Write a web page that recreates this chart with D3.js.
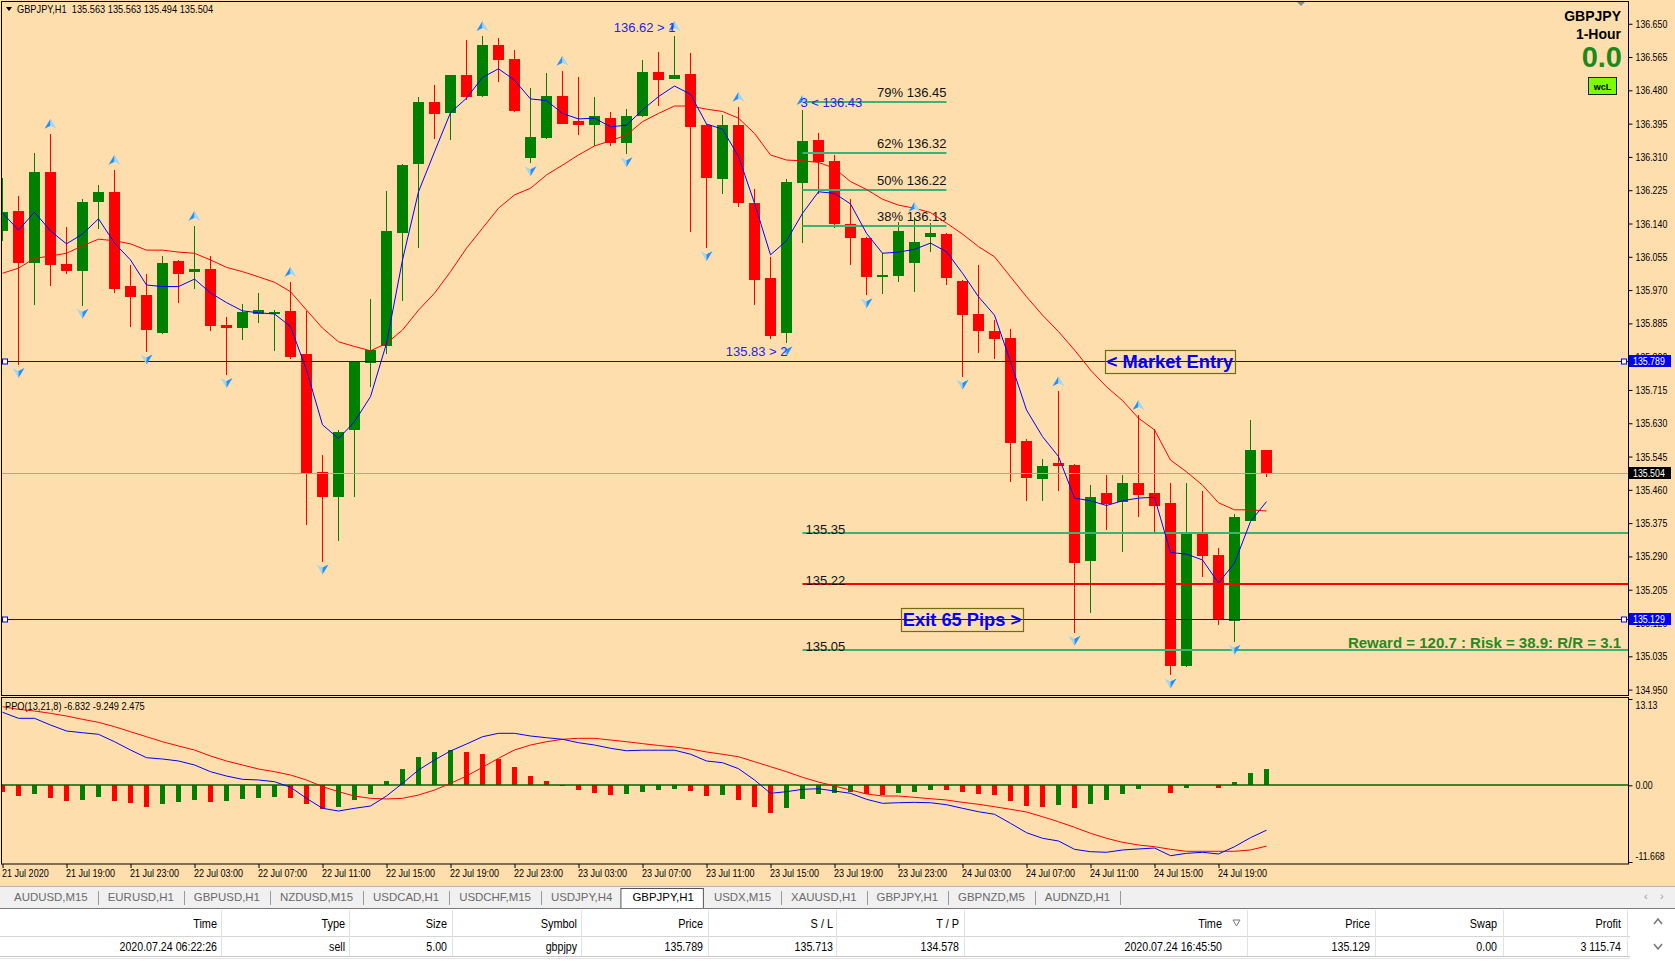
<!DOCTYPE html>
<html><head><meta charset="utf-8">
<script src="https://cdn.jsdelivr.net/npm/d3@7"></script>
<style>
body{margin:0;background:#FFDEAD;overflow:hidden}
svg{display:block}
</style></head>
<body><svg id="c" width="1675" height="963"></svg>
<script>
// ---------------- DATA ----------------
const opens=[136.122,136.172,136.040,136.272,136.037,136.020,136.195,136.220,135.980,135.957,
135.861,136.044,136.017,136.024,135.882,135.874,135.910,135.912,135.917,135.807,
135.506,135.443,135.614,135.785,135.826,136.117,136.293,136.450,136.423,136.519,
136.466,136.596,136.560,136.308,136.359,136.466,136.402,136.392,136.409,136.346,
136.415,136.527,136.510,136.522,136.392,136.254,136.392,136.193,136.002,135.860,
136.243,136.353,136.300,136.139,136.104,136.004,136.006,136.039,136.106,136.113,
135.993,135.909,135.865,135.847,135.585,135.488,135.529,135.523,135.279,135.452,
135.430,135.478,135.452,135.427,135.011,135.353,135.294,135.124,135.381,135.563];
const highs=[136.256,136.210,136.320,136.369,136.131,136.203,136.238,136.277,136.034,136.011,
136.057,136.047,136.134,136.057,135.902,135.935,135.963,135.919,135.991,135.917,
135.549,135.613,135.790,135.947,136.223,136.292,136.463,136.494,136.520,136.609,
136.619,136.614,136.583,136.485,136.524,136.530,136.514,136.462,136.425,136.432,
136.558,136.578,136.619,136.575,136.394,136.417,136.438,136.228,136.055,136.254,
136.430,136.371,136.315,136.203,136.106,136.065,136.145,136.157,136.141,136.115,
135.995,136.034,135.894,135.870,135.589,135.539,135.712,135.526,135.472,135.498,
135.498,135.651,135.615,135.478,135.478,135.457,135.312,135.399,135.638,135.563];
const lows=[136.096,135.779,135.933,135.981,136.012,135.930,136.126,135.963,135.877,135.813,
135.858,135.938,135.974,135.866,135.753,135.843,135.887,135.815,135.795,135.369,
135.277,135.330,135.443,135.723,135.808,135.943,136.078,136.355,136.353,136.455,
136.463,136.502,136.425,136.294,136.357,136.393,136.366,136.339,136.339,136.317,
136.413,136.440,136.508,136.119,136.077,136.215,136.183,135.932,135.845,135.834,
136.090,136.215,136.129,136.034,135.957,135.960,135.991,135.966,136.068,135.983,
135.749,135.810,135.794,135.481,135.432,135.432,135.458,135.095,135.146,135.358,
135.302,135.391,135.346,134.986,135.008,135.238,135.116,135.072,135.381,135.494];
const closes=[136.169,136.040,136.272,136.035,136.020,136.195,136.220,135.974,135.953,135.869,
136.039,136.012,136.024,135.879,135.874,135.914,135.919,135.915,135.800,135.501,
135.443,135.608,135.788,135.817,136.121,136.289,136.450,136.420,136.519,136.464,
136.596,136.557,136.428,136.361,136.466,136.395,136.392,136.415,136.346,136.415,
136.527,136.506,136.518,136.387,136.257,136.392,136.193,135.997,135.854,136.247,
136.351,136.296,136.140,136.104,136.004,136.009,136.121,136.092,136.115,136.002,
135.907,135.866,135.845,135.580,135.491,135.521,135.522,135.274,135.442,135.425,
135.478,135.448,135.420,135.011,135.353,135.292,135.127,135.391,135.563,135.504];
const maFast=[136.167,136.123,136.169,136.121,136.088,136.113,136.152,136.090,136.047,135.983,
135.979,135.979,135.998,135.963,135.938,135.917,135.912,135.909,135.877,135.766,
135.626,135.591,135.634,135.698,135.834,136.047,136.221,136.323,136.423,136.460,
136.513,136.535,136.506,136.458,136.454,136.421,136.407,136.409,136.387,136.391,
136.430,136.464,136.491,136.470,136.394,136.381,136.311,136.192,136.060,136.096,
136.166,136.221,136.217,136.190,136.115,136.064,136.067,136.074,136.090,136.068,
136.013,135.953,135.906,135.787,135.664,135.596,135.545,135.439,135.432,135.420,
135.432,135.439,135.441,135.300,135.296,135.281,135.222,135.273,135.379,135.430];
const maSlow=[136.013,136.026,136.051,136.057,136.064,136.083,136.100,136.096,136.088,136.072,
136.072,136.067,136.064,136.047,136.028,136.017,136.004,135.990,135.966,135.919,
135.873,135.838,135.826,135.815,135.834,135.868,135.919,135.962,136.017,136.077,
136.128,136.179,136.213,136.230,136.264,136.289,136.315,136.338,136.351,136.366,
136.400,136.421,136.440,136.440,136.432,136.426,136.409,136.370,136.315,136.302,
136.300,136.296,136.281,136.247,136.227,136.202,136.187,136.179,136.168,136.141,
136.113,136.081,136.055,136.004,135.953,135.906,135.864,135.817,135.766,135.723,
135.688,135.643,135.613,135.536,135.506,135.472,135.427,135.409,135.409,135.406];
const ppoMain=[11.11,10.19,10.19,9.17,8.26,8.00,7.76,6.63,5.37,4.20,
4.00,3.70,3.09,2.07,1.41,0.91,0.81,0.55,-0.30,-1.98,
-3.50,-3.91,-3.50,-3.15,-1.63,0.30,2.33,3.85,5.22,6.28,
7.39,7.91,7.91,7.50,7.24,7.00,6.48,6.13,5.63,5.26,
5.34,5.34,5.34,4.73,3.70,3.44,2.53,0.81,-1.22,-0.97,
-0.61,-0.52,-0.87,-1.22,-2.13,-2.74,-2.65,-2.59,-2.65,-2.95,
-3.50,-4.02,-4.41,-5.78,-7.21,-8.06,-8.47,-9.74,-10.10,-10.19,
-9.84,-9.69,-9.54,-10.71,-10.35,-10.19,-10.45,-9.34,-7.97,-6.83];
const ppoSignal=[11.96,11.56,11.30,10.95,10.54,10.04,9.58,8.92,8.15,7.39,
6.63,5.98,5.37,4.46,3.70,3.09,2.48,2.07,1.57,0.81,
-0.21,-0.97,-1.63,-1.98,-2.08,-1.98,-1.48,-0.72,0.30,1.41,
2.74,4.11,5.37,6.13,6.63,7.00,7.15,7.15,6.89,6.63,
6.34,6.06,5.83,5.52,5.07,4.72,4.35,3.59,2.83,2.07,
1.22,0.50,-0.11,-0.72,-1.32,-1.63,-1.63,-1.83,-2.04,-2.24,
-2.59,-2.89,-3.26,-3.65,-4.06,-4.78,-5.54,-6.39,-7.30,-8.06,
-8.67,-9.08,-9.34,-9.74,-10.04,-10.04,-10.04,-10.04,-9.84,-9.25];
const ppoHist=[-0.96,-1.63,-1.26,-1.87,-2.33,-2.18,-1.72,-2.33,-2.63,-3.24,
-2.84,-2.48,-2.18,-2.48,-2.33,-2.02,-1.87,-1.72,-1.87,-2.78,
-3.54,-3.24,-2.18,-1.26,0.61,2.43,4.31,5.07,5.37,5.07,
4.76,4.00,2.78,1.37,0.65,-0.15,-0.65,-1.11,-1.41,-1.38,
-0.96,-0.65,-0.50,-0.81,-1.60,-1.55,-2.18,-3.24,-4.15,-3.39,
-2.02,-1.26,-1.11,-1.08,-1.26,-1.41,-1.11,-0.96,-0.65,-0.68,
-0.96,-1.26,-1.41,-2.33,-3.09,-3.24,-2.94,-3.39,-2.78,-2.18,
-1.26,-0.50,0.00,-1.11,-0.35,0.00,-0.35,0.46,1.87,2.48];
const fractalUp=[3,7,12,18,30,35,42,46,50,57,66,71];
const fractalDown=[1,5,9,14,20,33,39,44,49,54,60,67,73,77];
const timeLabels=["21 Jul 2020","21 Jul 19:00","21 Jul 23:00","22 Jul 03:00","22 Jul 07:00","22 Jul 11:00","22 Jul 15:00","22 Jul 19:00","22 Jul 23:00","23 Jul 03:00","23 Jul 07:00","23 Jul 11:00","23 Jul 15:00","23 Jul 19:00","23 Jul 23:00","24 Jul 03:00","24 Jul 07:00","24 Jul 11:00","24 Jul 15:00","24 Jul 19:00"];
const priceTicks=[136.650,136.565,136.480,136.395,136.310,136.225,136.140,136.055,135.970,135.885,135.800,135.715,135.630,135.545,135.460,135.375,135.290,135.205,135.120,135.035,134.950];
const ppoTicks=[13.13,0,-11.668];
const fibPct=["79%","62%","50%","38%"];
const fibVals=[136.451,136.319,136.2265,136.134];
const fibText=["136.45","136.32","136.22","136.13"];
const targetVals=[135.35,135.22,135.05];
const targetText=["135.35","135.22","135.05"];
const entryPrice=135.789, exitPrice=135.129, bidPrice=135.504;
const swingNotes=[{i:42,t:"136.62 > 1",side:"hiL"},{i:49,t:"135.83 > 2",side:"loL"},{i:50,t:"3 < 136.43",side:"hiR"}];
const tabNames=["AUDUSD,M15","EURUSD,H1","GBPUSD,H1","NZDUSD,M15","USDCAD,H1","USDCHF,M15","USDJPY,H4","GBPJPY,H1","USDX,M15","XAUUSD,H1","GBPJPY,H1","GBPNZD,M5","AUDNZD,H1"];
const activeTab=7;
const colNames=["Time","Type","Size","Symbol","Price","S / L","T / P","Time","Price","Swap","Profit"];
const rowVals=["2020.07.24 06:22:26","sell","5.00","gbpjpy","135.789","135.713","134.578","2020.07.24 16:45:50","135.129","0.00","3 115.74"];
const colRight=[217,345,447,577,703,833,959,1222,1370,1497,1621];
const colSep=[221,349,452,581,708,836,964,1247,1375,1503,1627];

// ---------------- LAYOUT ----------------
const SANS='"Liberation Sans",Arial,sans-serif';
const BG="#FFDEAD", GREEN="#008000", RED="#FF0000";
const PL=1.5, PR=1628.5, PT=1.5, PB=695.5, IT=697.5, IB=864;
const svg=d3.select("#c");
const x=d3.scaleLinear().domain([0,79]).range([2.5,1266.5]);
const y=d3.scaleLinear().domain([134.95,136.65]).range([689.6,23.75]);
const yi=d3.scaleLinear().domain([-11.668,13.13]).range([862,699]);
const idx=d3.range(opens.length);
const R=v=>Math.round(v);
function squeeze(sel,f){sel.each(function(){const L=this.getComputedTextLength();this.setAttribute("textLength",(L*f).toFixed(1));this.setAttribute("lengthAdjust","spacingAndGlyphs");});}

svg.append("rect").attr("width",1675).attr("height",963).attr("fill",BG);
const defs=svg.append("defs");
defs.append("clipPath").attr("id","mclip").append("rect").attr("x",PL).attr("y",PT).attr("width",PR-PL).attr("height",PB-PT);
defs.append("clipPath").attr("id","iclip").append("rect").attr("x",PL).attr("y",IT).attr("width",PR-PL).attr("height",IB-IT);

// ---------- main panel ----------
const m=svg.append("g").attr("clip-path","url(#mclip)");
m.selectAll("line.wick").data(idx).join("line").attr("class","wick")
 .attr("x1",i=>x(i)).attr("x2",i=>x(i))
 .attr("y1",i=>R(y(highs[i]))).attr("y2",i=>R(y(lows[i])))
 .attr("stroke",i=>closes[i]>=opens[i]?GREEN:RED).attr("stroke-width",1);
m.selectAll("rect.body").data(idx).join("rect").attr("class","body")
 .attr("x",i=>x(i)-5.5).attr("width",11)
 .attr("y",i=>R(y(Math.max(opens[i],closes[i]))))
 .attr("height",i=>Math.max(2,R(y(Math.min(opens[i],closes[i])))-R(y(Math.max(opens[i],closes[i])))))
 .attr("fill",i=>closes[i]>=opens[i]?GREEN:RED);

m.append("line").attr("x1",PL).attr("x2",PR).attr("y1",R(y(bidPrice))+0.5).attr("y2",R(y(bidPrice))+0.5).attr("stroke","#A8A8A8");
[entryPrice,exitPrice].forEach(p=>{
  const yy=R(y(p))+0.5;
  m.append("line").attr("x1",PL).attr("x2",PR).attr("y1",yy).attr("y2",yy).attr("stroke","#0000FF");
  m.append("rect").attr("x",2.5).attr("y",yy-2.5).attr("width",5).attr("height",5).attr("fill","#fff").attr("stroke","#0000FF");
  m.append("rect").attr("x",1621.5).attr("y",yy-2.5).attr("width",5).attr("height",5).attr("fill","#fff").attr("stroke","#0000FF");
});
const fibX0=x(50), fibX1=946.5;
fibVals.forEach((v,k)=>{
  const yy=R(y(v));
  m.append("line").attr("x1",fibX0).attr("x2",fibX1).attr("y1",yy).attr("y2",yy).attr("stroke","#3CB371").attr("stroke-width",2.2);
  m.append("text").attr("x",fibX1).attr("y",yy-5).attr("text-anchor","end").attr("font-family",SANS).attr("font-size",13).attr("fill","#111").text(fibPct[k]+" "+fibText[k]);
});
targetVals.forEach((v,k)=>{
  const yy=R(y(v));
  m.append("line").attr("x1",fibX0).attr("x2",PR).attr("y1",yy).attr("y2",yy).attr("stroke",k===1?"#FF0000":"#3CB371").attr("stroke-width",2.2);
  m.append("text").attr("x",fibX0+3).attr("y",yy+1).attr("font-family",SANS).attr("font-size",13).attr("fill","#111").text(targetText[k]);
});

const lineGen=arr=>d3.line().x((d,i)=>x(i)).y(d=>y(d))(arr);
m.append("path").attr("d",lineGen(maSlow)).attr("fill","none").attr("stroke","#FF0000").attr("stroke-width",1);
m.append("path").attr("d",lineGen(maFast)).attr("fill","none").attr("stroke","#0000FF").attr("stroke-width",1);

function arrow(g,cx,cy,up){
  const s=up?1:-1;
  g.append("path").attr("d",`M${cx},${cy-5*s} L${cx-6},${cy+5*s} L${cx},${cy+2*s} Z`).attr("fill",up?"#1E90FF":"#9ED8F5");
  g.append("path").attr("d",`M${cx},${cy-5*s} L${cx+6},${cy+5*s} L${cx},${cy+2*s} Z`).attr("fill",up?"#9ED8F5":"#1E90FF");
}
fractalUp.forEach(i=>arrow(m,x(i),y(highs[i])-10,true));
fractalDown.forEach(i=>arrow(m,x(i),y(lows[i])+8,false));

swingNotes.forEach(n=>{
  let tx,ty,anchor;
  if(n.side==="hiL"){tx=x(n.i)+1;ty=y(highs[n.i])-4;anchor="end";}
  else if(n.side==="loL"){tx=x(n.i)+1;ty=y(lows[n.i])+13;anchor="end";}
  else {tx=x(n.i)-2;ty=y(highs[n.i])-3;anchor="start";}
  m.append("text").attr("x",tx).attr("y",ty).attr("text-anchor",anchor).attr("font-family",SANS).attr("font-size",13).attr("fill","#2222EE").text(n.t);
});

function labelBox(x0,x1,p,t){
  const yy=R(y(p));
  m.append("rect").attr("x",x0+0.5).attr("y",yy-10.5).attr("width",x1-x0).attr("height",23).attr("fill","none").attr("stroke","#6E6E10").attr("stroke-width",1.2);
  m.append("text").attr("x",(x0+x1)/2).attr("y",yy+7).attr("text-anchor","middle").attr("font-family",SANS).attr("font-weight","bold").attr("font-size",18.3).attr("fill","#0000FF").text(t);
}
labelBox(1105,1235,entryPrice,"< Market Entry");
labelBox(901,1023,exitPrice,"Exit 65 Pips >");

m.append("text").attr("x",1621).attr("y",R(y(135.05))-2).attr("text-anchor","end").attr("font-family",SANS).attr("font-weight","bold").attr("font-size",15).attr("fill","#248A24").text("Reward = 120.7 : Risk = 38.9: R/R = 3.1");

const info=svg.append("g").attr("font-family",SANS).attr("font-weight","bold").attr("text-anchor","end");
info.append("text").attr("x",1621).attr("y",21).attr("font-size",14).attr("fill","#000").text("GBPJPY");
info.append("text").attr("x",1621).attr("y",39).attr("font-size",14).attr("fill","#000").text("1-Hour");
info.append("text").attr("x",1622).attr("y",67).attr("font-size",29).attr("fill","#1A8A1A").text("0.0");
svg.append("rect").attr("x",1588.5).attr("y",77.5).attr("width",28).attr("height",17).attr("fill","#7CFC00").attr("stroke","#222");
svg.append("text").attr("x",1602.5).attr("y",89.5).attr("text-anchor","middle").attr("font-family",SANS).attr("font-weight","bold").attr("font-size",9).attr("fill","#000").text("wcL");

svg.append("path").attr("d","M6,7 L12,7 L9,11 Z").attr("fill","#000");
const hdr=svg.append("text").attr("x",17).attr("y",13).attr("font-family",SANS).attr("font-size",11).attr("fill","#000").attr("xml:space","preserve").text("GBPJPY,H1  135.563 135.563 135.494 135.504");
squeeze(hdr,0.84);
svg.append("path").attr("d","M1297,2 L1305,2 L1301,6 Z").attr("fill","#8A8A8A");

svg.append("rect").attr("x",PL).attr("y",PT).attr("width",PR-PL).attr("height",PB-PT).attr("fill","none").attr("stroke","#000");

// price axis
const ya=svg.append("g").attr("transform",`translate(${PR},0)`).call(d3.axisRight(y).tickValues(priceTicks).tickFormat(d3.format(".3f")).tickSize(4).tickPadding(3));
ya.select(".domain").remove();
ya.selectAll("text").attr("font-family",SANS).attr("font-size",11).attr("fill","#000");
squeeze(ya.selectAll("text"),0.8);
ya.selectAll("line").attr("stroke","#000");
[[entryPrice,"#0000FF"],[bidPrice,"#000000"],[exitPrice,"#0000FF"]].forEach(([p,c])=>{
  const yy=R(y(p));
  svg.append("rect").attr("x",1629).attr("y",yy-6).attr("width",42).attr("height",12).attr("fill",c);
  const t=svg.append("text").attr("x",1633).attr("y",yy+4).attr("font-family",SANS).attr("font-size",11).attr("fill","#fff").text(p.toFixed(3));
  squeeze(t,0.8);
});

// ---------- indicator panel ----------
const ig=svg.append("g").attr("clip-path","url(#iclip)");
const y0=R(yi(0));
ig.selectAll("rect.h").data(idx).join("rect").attr("class","h")
 .attr("x",i=>x(i)-2.5).attr("width",5)
 .attr("y",i=>ppoHist[i]>=0?R(yi(ppoHist[i])):y0)
 .attr("height",i=>Math.abs(R(yi(ppoHist[i]))-y0))
 .attr("fill",i=>(i>0&&ppoHist[i]>ppoHist[i-1])?GREEN:RED);
ig.append("line").attr("x1",PL).attr("x2",PR).attr("y1",y0).attr("y2",y0).attr("stroke","#006400").attr("stroke-width",1.6);
const iline=arr=>d3.line().x((d,i)=>x(i)).y(d=>yi(d))(arr);
ig.append("path").attr("d",iline(ppoSignal)).attr("fill","none").attr("stroke","#FF0000").attr("stroke-width",1);
ig.append("path").attr("d",iline(ppoMain)).attr("fill","none").attr("stroke","#0000FF").attr("stroke-width",1);
const pl=svg.append("text").attr("x",5).attr("y",710).attr("font-family",SANS).attr("font-size",11).attr("fill","#000").text("PPO(13,21,8) -6.832 -9.249 2.475");
squeeze(pl,0.84);
svg.append("rect").attr("x",PL).attr("y",IT).attr("width",PR-PL).attr("height",IB-IT).attr("fill","none").attr("stroke","#000");
const iy=svg.append("g").attr("transform",`translate(${PR},0)`).call(d3.axisRight(yi).tickValues(ppoTicks).tickFormat(d=>d===0?"0.00":(d===13.13?"13.13":"-11.668")).tickSize(4).tickPadding(3));
iy.select(".domain").remove();
iy.selectAll("line").attr("stroke","#000");
iy.selectAll("text").attr("font-family",SANS).attr("font-size",11).attr("fill","#000")
  .attr("dy",d=>d===13.13?"0.9em":(d===0?"0.32em":"-0.25em"));
squeeze(iy.selectAll("text"),0.8);

// time axis
const tIdx=timeLabels.map((d,k)=>k*4);
const xa=svg.append("g").attr("transform",`translate(0,${IB})`).call(d3.axisBottom(x).tickValues(tIdx).tickFormat((d,k)=>timeLabels[k]).tickSize(4).tickPadding(1));
xa.select(".domain").remove();
xa.selectAll("line").attr("stroke","#000");
xa.selectAll("text").attr("font-family",SANS).attr("font-size",11).attr("fill","#000").attr("text-anchor","start").attr("dx",-1);
squeeze(xa.selectAll("text"),0.82);

// ---------- tabs ----------
svg.append("rect").attr("x",0).attr("y",886).attr("width",1675).attr("height",22).attr("fill","#F0F0F0");
svg.append("line").attr("x1",0).attr("x2",1675).attr("y1",886.5).attr("y2",886.5).attr("stroke","#B4B4B4");
const tabG=svg.append("g");
let tx=4;
tabNames.forEach((name,k)=>{
  const t=tabG.append("text").attr("y",901).attr("font-family",SANS).attr("font-size",11.45).attr("fill",k===activeTab?"#000":"#6A6A6A").text(name);
  const w=t.node().getComputedTextLength();
  if(k===activeTab){
    tabG.insert("rect","text").attr("x",tx-1.5).attr("y",888.5).attr("width",w+21).attr("height",20).attr("fill","#fff").attr("stroke","#555");
  }
  t.attr("x",tx+10);
  tx+=w+20;
  if(k!==activeTab && k+1!==activeTab){
    tabG.append("line").attr("x1",R(tx)+0.5).attr("x2",R(tx)+0.5).attr("y1",891).attr("y2",905).attr("stroke","#9A9A9A");
  }
});
svg.append("text").attr("x",1644).attr("y",900).attr("font-family",SANS).attr("font-size",11).attr("fill","#999").text("‹");
svg.append("text").attr("x",1660).attr("y",900).attr("font-family",SANS).attr("font-size",11).attr("fill","#999").text("›");

// ---------- table ----------
svg.append("rect").attr("x",0).attr("y",908).attr("width",1675).attr("height",55).attr("fill","#fff");
svg.append("line").attr("x1",0).attr("x2",1675).attr("y1",908.5).attr("y2",908.5).attr("stroke","#7A7A7A");
svg.append("line").attr("x1",0).attr("x2",1630).attr("y1",936.5).attr("y2",936.5).attr("stroke","#D6D6D6");
svg.append("line").attr("x1",0).attr("x2",1630).attr("y1",956.5).attr("y2",956.5).attr("stroke","#C8C8C8");
svg.append("line").attr("x1",0).attr("x2",1630).attr("y1",958.5).attr("y2",958.5).attr("stroke","#E4E4E4");
const tb=svg.append("g");
tb.selectAll("line.sep").data(colSep).join("line").attr("class","sep").attr("x1",d=>d+0.5).attr("x2",d=>d+0.5).attr("y1",910).attr("y2",956).attr("stroke","#E2E2E2");
const hd=tb.selectAll("text.hd").data(colNames).join("text").attr("class","hd").attr("x",(d,k)=>colRight[k]).attr("y",928).attr("text-anchor","end").attr("font-family",SANS).attr("font-size",12.8).attr("fill","#000").text(d=>d);
squeeze(hd,0.85);
const rv=tb.selectAll("text.rv").data(rowVals).join("text").attr("class","rv").attr("x",(d,k)=>colRight[k]).attr("y",951).attr("text-anchor","end").attr("font-family",SANS).attr("font-size",12.8).attr("fill","#000").text(d=>d);
squeeze(rv,0.83);
svg.append("path").attr("d","M1233,920 L1240,920 L1236.5,926 Z").attr("fill","none").attr("stroke","#777");
svg.append("path").attr("d","M1654,924 L1658,919 L1662,924").attr("fill","none").attr("stroke","#777").attr("stroke-width",1.5);
svg.append("path").attr("d","M1654,944 L1658,949 L1662,944").attr("fill","none").attr("stroke","#777").attr("stroke-width",1.5);
</script></body></html>
